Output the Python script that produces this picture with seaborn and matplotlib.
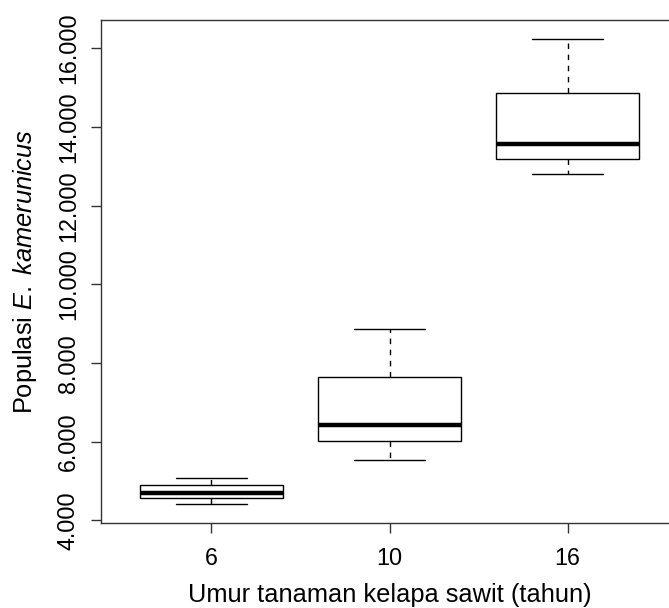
import numpy as np
import pandas as pd
import seaborn as sns
import matplotlib.pyplot as plt
from matplotlib.ticker import FuncFormatter

# Five-number summaries (min, Q1, median, Q3, max)
umur = ['6', '10', '16']
pop_6 = [4410, 4560, 4710, 4890, 5070]
pop_10 = [5550, 6010, 6440, 7660, 8880]
pop_16 = [12820, 13200, 13560, 14880, 16250]
y_ticks = [4000, 6000, 8000, 10000, 12000, 14000, 16000]

df = pd.DataFrame({
    'Umur': ['6'] * len(pop_6) + ['10'] * len(pop_10) + ['16'] * len(pop_16),
    'Populasi': pop_6 + pop_10 + pop_16,
})

sns.set_style('ticks')
plt.rcParams['font.family'] = ['Liberation Sans', 'DejaVu Sans']
plt.rcParams['mathtext.fontset'] = 'custom'
plt.rcParams['mathtext.rm'] = 'Liberation Sans'
plt.rcParams['mathtext.it'] = 'Liberation Sans:italic'
plt.rcParams['text.color'] = 'black'
plt.rcParams['axes.labelcolor'] = 'black'

fs_lab = 18.3
fs_tick = 16.8
fig = plt.figure(figsize=(6.69, 6.08), dpi=100)
ax = fig.add_axes([101 / 669, 85 / 608, 577 / 669, 503 / 608])

sns.boxplot(data=df, x='Umur', y='Populasi', order=umur, ax=ax,
            width=0.8, whis=np.inf, color='white', linecolor='black',
            linewidth=1.0, saturation=1,
            medianprops=dict(linewidth=3.2, color='black'),
            whiskerprops=dict(linestyle=(0, (4, 4)), linewidth=1.0),
            capprops=dict(linestyle='-', linewidth=1.0))

# R-style caps: half the box width
ends = (pop_6[0], pop_6[-1], pop_10[0], pop_10[-1], pop_16[0], pop_16[-1])
for line in ax.lines:
    xd = line.get_xdata()
    yd = line.get_ydata()
    if len(xd) == 2 and yd[0] == yd[1] and yd[0] in ends and abs(xd[1] - xd[0]) < 0.6:
        c = (xd[0] + xd[1]) / 2
        line.set_xdata([c - 0.2, c + 0.2])

ax.set_xlim(-0.62, 2.62)
ax.set_ylim(3936, 16724)
ax.set_yticks(y_ticks)
ax.yaxis.set_major_formatter(FuncFormatter(lambda v, p: f'{int(v):,}'.replace(',', '.')))
plt.setp(ax.get_yticklabels(), rotation=90, va='center')

ax.tick_params(axis='both', length=7.2, width=1.0, color='#333333', labelcolor='black',
               labelsize=fs_tick, pad=8)
ax.tick_params(axis='x', pad=10)
for s in ax.spines.values():
    s.set_linewidth(1.0)
    s.set_color('#333333')

ax.set_xlabel('Umur tanaman kelapa sawit (tahun)', fontsize=fs_lab)
ax.set_ylabel(r'Populasi $\mathit{E.\ kamerunicus}$', fontsize=fs_lab)
ax.xaxis.set_label_coords(0.5, -0.12)
ax.yaxis.set_label_coords(-0.107, 0.5)

fig.savefig('out.png', dpi=100)
